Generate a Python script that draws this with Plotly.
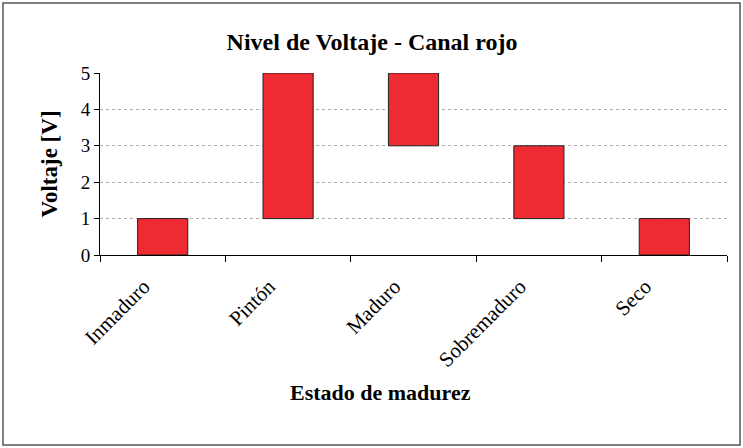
import plotly.graph_objects as go

categories = ["Inmaduro", "Pintón", "Maduro", "Sobremaduro", "Seco"]
v_min = [0, 1, 3, 1, 0]
v_max = [1, 5, 5, 3, 1]
y_ticks = [0, 1, 2, 3, 4, 5]

heights = [hi - lo for lo, hi in zip(v_min, v_max)]

W, H = 743, 448
L, R, T, B = 100, 16, 73, 193
pw, ph = W - L - R, H - T - B

fig = go.Figure(go.Bar(
    x=categories, y=heights, base=v_min, width=0.4,
    marker=dict(color="#EE2A33", line=dict(color="#222222", width=1)),
    hoverinfo="skip",
))

font = "Liberation Serif, Times New Roman, serif"
fig.update_layout(
    width=W, height=H,
    margin=dict(l=L, r=R, t=T, b=B),
    paper_bgcolor="white", plot_bgcolor="white",
    showlegend=False,
    font=dict(family=font, color="black", size=20),
    title=dict(text="<b>Nivel de Voltaje - Canal rojo</b>", x=372 / W, xanchor="center",
               y=1 - 42 / H, yanchor="middle", font=dict(size=24, family=font)),
    bargap=0.6,
)
fig.update_xaxes(
    type="category", tickson="boundaries", ticks="outside", ticklen=6,
    tickcolor="black", showline=True, linecolor="black", linewidth=1,
    tickangle=-45, tickfont=dict(size=21, family=font),
    ticklabelstandoff=10, ticklabelshift=-19,
    showgrid=False, range=[-0.5, 4.5],
)
fig.update_yaxes(
    range=[0, 5], tickvals=y_ticks, ticks="outside", ticklen=5, tickcolor="black",
    showline=True, linecolor="black", linewidth=1,
    showgrid=True, gridcolor="#b0b0b0", griddash="dot", gridwidth=1,
    zeroline=False, tickfont=dict(size=19, family=font),
    title=dict(text="<b>Voltaje [V]</b>", font=dict(size=23, family=font), standoff=16),
)
# x-axis title placed as in the reference (centred on the chart, not the plot)
fig.add_annotation(text="<b>Estado de madurez</b>", xref="paper", yref="paper",
                   x=(380 - L) / pw, y=(H - B - 392) / ph, xanchor="center", yanchor="middle",
                   showarrow=False, font=dict(size=22, family=font))
# outer chart border
fig.add_shape(type="rect", xref="paper", yref="paper",
              x0=(3 - L) / pw, x1=(740 - L) / pw,
              y0=(H - B - 445) / ph, y1=(H - B - 3) / ph,
              line=dict(color="#555555", width=1.5), layer="below")

fig.write_html("out.html", config={"displayModeBar": False},
               post_script="document.body.style.margin='0';")
